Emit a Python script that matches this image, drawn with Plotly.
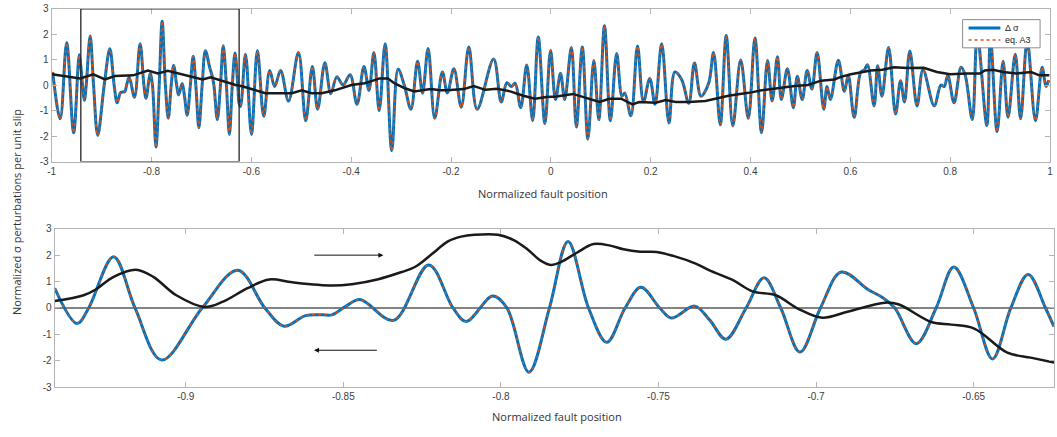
import plotly.graph_objects as go

# ---------------- data ----------------
# Top panel: stress signal left of the zoom window
sig_left_x = [-0.998, -0.983, -0.970, -0.956, -0.9448]
sig_left_y = [0.52, -1.32, 1.67, -1.87, 1.2]

# Zoom window signal (bottom panel, also used inside the box of the top panel)
zoom_x = [-0.9416, -0.9345, -0.9308, -0.9229, -0.9161, -0.9077, -0.8948, -0.8835, -0.8749,
          -0.8688, -0.8620, -0.8567, -0.8536, -0.8494, -0.8447, -0.8341, -0.8229, -0.8152,
          -0.8110, -0.8026, -0.7981, -0.7911, -0.7846, -0.7787, -0.7722, -0.7664, -0.7606,
          -0.7556, -0.7496, -0.7459, -0.7385, -0.7338, -0.7286, -0.7222, -0.7165, -0.7112,
          -0.7051, -0.6986, -0.6920, -0.6834, -0.6787, -0.6750, -0.6682, -0.6619, -0.6563,
          -0.6500, -0.6440, -0.6382, -0.6327, -0.6272, -0.6245]
zoom_y = [0.75, -0.59, 0.0, 1.94, 0.0, -1.97, 0.0, 1.43, 0.0,
          -0.69, -0.29, -0.26, -0.26, 0.05, 0.32, -0.47, 1.63, 0.0,
          -0.51, 0.45, 0.0, -2.43, 0.0, 2.52, 0.0, -1.30, 0.0,
          0.78, 0.0, -0.38, 0.07, -0.45, -1.18, 0.0, 1.14, 0.0,
          -1.67, 0.0, 1.36, 0.69, 0.38, 0.0, -1.35, 0.0, 1.55,
          0.0, -1.93, 0.0, 1.27, 0.0, -0.71]

# Top panel: stress signal right of the zoom window
sig_right_x = [-0.6217, -0.6117, -0.5998, -0.5879, -0.5752, -0.5632, -0.5533, -0.5414, -0.5255,
               -0.5056, -0.4911, -0.4778, -0.4672, -0.4527, -0.4408, -0.4288, -0.4162, -0.4022,
               -0.3883, -0.3744, -0.3644, -0.3545, -0.3439, -0.3320, -0.3187, -0.3060, -0.2936,
               -0.2803, -0.2670, -0.2571, -0.2459, -0.2326, -0.2173, -0.2074, -0.1942, -0.1795,
               -0.1644, -0.1477, -0.1147, -0.0994, -0.0881, -0.0790, -0.0716, -0.0603, -0.0483,
               -0.0364, -0.0252, -0.0119, -0.0006, 0.0093, 0.0193, 0.0278, 0.0411, 0.0511,
               0.0630, 0.0742, 0.0861, 0.0961, 0.1074, 0.1193, 0.1318, 0.1425, 0.1480,
               0.1604, 0.1736, 0.1855, 0.1982, 0.2087, 0.2220, 0.2366, 0.2485, 0.2620,
               0.2763, 0.2877, 0.3008, 0.3161, 0.3260, 0.3394, 0.3513, 0.3645, 0.3803,
               0.3956, 0.4089, 0.4221, 0.4340, 0.4433, 0.4539, 0.4618, 0.4738, 0.4858,
               0.4937, 0.5036, 0.5135, 0.5229, 0.5334, 0.5467, 0.5533, 0.5600, 0.5759,
               0.5879, 0.5958, 0.6077, 0.6209, 0.6280, 0.6342, 0.6475, 0.6547, 0.6633,
               0.6766, 0.6905, 0.7005, 0.7084, 0.7191, 0.7336, 0.7455, 0.7680, 0.7813,
               0.7880, 0.7952, 0.8078, 0.8217, 0.8300, 0.8443, 0.8543, 0.8734, 0.8807,
               0.8940, 0.9060, 0.9159, 0.9304, 0.9410, 0.9543, 0.9708, 0.9841, 0.9920,
               0.9974]
sig_right_y = [-0.83, 1.22, -1.93, 1.37, -1.22, 0.58, -0.05, 0.58, -0.62,
               1.29, -1.39, 0.74, -0.94, 0.88, -0.33, 0.33, 0.01, 0.41,
               -0.75, 0.74, -0.20, 1.29, -1.00, 1.63, -2.57, 0.63, 0.00,
               -0.94, 0.94, -0.31, 1.44, -1.30, 0.52, -0.30, 0.65, -0.86,
               1.50, -0.94, 1.03, -0.66, 0.10, -0.05, 0.08, -0.88, 0.80,
               -1.39, 1.90, -1.51, 1.37, -0.56, 0.46, -0.56, 1.48, -1.64,
               1.50, -2.11, 0.97, -1.35, 2.34, -1.39, 1.25, -0.43, -0.30,
               -1.20, 1.54, -0.65, 0.27, -0.75, 1.63, -1.48, 0.52, 0.23,
               -0.71, 0.87, -0.43, 0.08, 1.29, -1.55, 1.96, -1.60, 0.99,
               -1.30, 1.86, -1.86, 0.97, -0.62, 1.12, -0.56, 0.65, -0.88,
               0.35, -0.56, 0.58, -0.15, 1.29, -0.94, -0.05, -0.56, 0.98,
               -0.24, 0.39, -1.26, 0.52, 0.60, 0.81, -0.81, 0.77, -0.43,
               1.48, -1.13, 0.18, -0.66, 1.35, -0.81, 0.61, -0.81, 0.01,
               -0.05, 0.39, -0.69, 0.71, 0.40, -1.35, 2.00, -1.58, 1.90,
               -1.83, 0.94, -1.26, 1.22, -1.32, 1.75, -1.39, 0.71, -0.05,
               0.20]

# Top panel: normalized fault profile (black)
fault_top_x = [-0.9994, -0.9761, -0.9429, -0.9165, -0.8932, -0.8734, -0.8370, -0.8072, -0.7873,
               -0.7674, -0.7441, -0.6978, -0.6813, -0.6547, -0.6316, -0.6183, -0.5984, -0.5720,
               -0.5453, -0.5189, -0.4990, -0.4791, -0.4592, -0.4328, -0.3996, -0.3732, -0.3533,
               -0.3433, -0.3266, -0.3135, -0.2936, -0.2738, -0.2406, -0.2207, -0.2076, -0.1744,
               -0.1545, -0.1312, -0.1080, -0.0815, -0.0551, -0.0318, -0.0085, 0.0113, 0.0443,
               0.0710, 0.0974, 0.1173, 0.1406, 0.1636, 0.1769, 0.2101, 0.2300, 0.2499,
               0.2763, 0.3095, 0.3360, 0.3559, 0.3823, 0.4022, 0.4221, 0.4553, 0.4885,
               0.5149, 0.5414, 0.5680, 0.5811, 0.6010, 0.6209, 0.6408, 0.6640, 0.6873,
               0.7137, 0.7469, 0.7734, 0.7998, 0.8330, 0.8595, 0.8694, 0.8861, 0.9060,
               0.9324, 0.9622, 0.9787, 0.9986]
fault_top_y = [0.43, 0.36, 0.27, 0.43, 0.23, 0.36, 0.39, 0.58, 0.46,
               0.57, 0.46, 0.23, 0.31, 0.14, 0.01, -0.04, -0.15, -0.31,
               -0.31, -0.31, -0.20, -0.31, -0.31, -0.20, 0.01, 0.08, 0.20,
               0.27, 0.27, 0.08, -0.11, -0.24, -0.15, -0.20, -0.20, -0.15,
               -0.03, -0.18, -0.14, -0.24, -0.41, -0.53, -0.46, -0.44, -0.34,
               -0.50, -0.66, -0.53, -0.53, -0.75, -0.66, -0.69, -0.58, -0.66,
               -0.66, -0.62, -0.50, -0.41, -0.33, -0.28, -0.20, -0.11, -0.03,
               0.01, 0.18, 0.23, 0.33, 0.43, 0.52, 0.58, 0.61, 0.71,
               0.68, 0.69, 0.52, 0.43, 0.46, 0.46, 0.58, 0.61, 0.52,
               0.46, 0.52, 0.39, 0.39]

# Bottom panel: rescaled fault profile (black)
fault_zoom_x = [-0.9416, -0.9324, -0.9287, -0.9229, -0.9158, -0.9103, -0.9030, -0.8940, -0.8882,
                -0.8804, -0.8735, -0.8662, -0.8536, -0.8473, -0.8389, -0.8315, -0.8273, -0.8220,
                -0.8168, -0.8126, -0.8084, -0.8010, -0.7958, -0.7916, -0.7874, -0.7842, -0.7811,
                -0.7758, -0.7706, -0.7653, -0.7611, -0.7558, -0.7506, -0.7453, -0.7380, -0.7338,
                -0.7265, -0.7202, -0.7128, -0.7055, -0.6981, -0.6897, -0.6781, -0.6739, -0.6634,
                -0.6571, -0.6498, -0.6393, -0.6319, -0.6245]
fault_zoom_y = [0.26, 0.48, 0.69, 1.18, 1.45, 1.18, 0.48, 0.04, 0.24,
                0.75, 1.08, 0.97, 0.85, 0.90, 1.09, 1.36, 1.55, 2.03,
                2.52, 2.70, 2.77, 2.77, 2.56, 2.22, 1.79, 1.63, 1.73,
                2.10, 2.42, 2.36, 2.22, 2.13, 2.12, 1.97, 1.67, 1.42,
                1.06, 0.63, 0.48, -0.04, -0.37, -0.13, 0.20, 0.14, -0.53,
                -0.63, -0.78, -1.69, -1.88, -2.06]

top_xticks = [-1, -0.8, -0.6, -0.4, -0.2, 0, 0.2, 0.4, 0.6, 0.8, 1]
top_xtick_text = ["-1", "-0.8", "-0.6", "-0.4", "-0.2", "0", "0.2", "0.4", "0.6", "0.8", "1"]
bot_xticks = [-0.9, -0.85, -0.8, -0.75, -0.7, -0.65]
bot_xtick_text = ["-0.9", "-0.85", "-0.8", "-0.75", "-0.7", "-0.65"]
yticks = [-3, -2, -1, 0, 1, 2, 3]
ytick_text = ["-3", "-2", "-1", "0", "1", "2", "3"]
zoom_window = [-0.9416, -0.6245]
legend_labels = ["Δ σ", "eq. A3"]

# ---------------- figure ----------------
BLUE = "#0072BD"
ORANGE = "#D95319"
W, H = 1057, 437

top_x = sig_left_x + zoom_x + sig_right_x
top_y = sig_left_y + zoom_y + sig_right_y

fig = go.Figure()
fig.add_trace(go.Scatter(x=top_x, y=top_y, mode="lines", name=legend_labels[0],
                         line=dict(color=BLUE, width=3, shape="spline"),
                         xaxis="x", yaxis="y"))
fig.add_trace(go.Scatter(x=top_x, y=top_y, mode="lines", name=legend_labels[1],
                         line=dict(color=ORANGE, width=1.5, dash="dot", shape="spline"),
                         xaxis="x", yaxis="y"))
fig.add_trace(go.Scatter(x=fault_top_x, y=fault_top_y, mode="lines",
                         line=dict(color="#1a1a1a", width=2.5),
                         xaxis="x", yaxis="y"))

fig.add_trace(go.Scatter(x=zoom_window, y=[0, 0], mode="lines",
                         line=dict(color="#5a5a5a", width=1.5),
                         xaxis="x2", yaxis="y2"))
fig.add_trace(go.Scatter(x=zoom_x, y=zoom_y, mode="lines",
                         line=dict(color=BLUE, width=3, shape="spline"),
                         xaxis="x2", yaxis="y2"))
fig.add_trace(go.Scatter(x=zoom_x, y=zoom_y, mode="lines",
                         line=dict(color=ORANGE, width=1.3, dash="dot", shape="spline"),
                         xaxis="x2", yaxis="y2"))
fig.add_trace(go.Scatter(x=fault_zoom_x, y=fault_zoom_y, mode="lines",
                         line=dict(color="#1a1a1a", width=2.5, shape="spline"),
                         xaxis="x2", yaxis="y2"))

axis_common = dict(showgrid=False, zeroline=False, showline=True, linecolor="#b4b4b4",
                   linewidth=1, mirror="ticks", ticks="inside", tickcolor="#b4b4b4",
                   ticklen=5, tickfont=dict(family="Liberation Sans, Arial", size=10, color="#404040"))


def px(xp):
    return xp / W


def py(yp):
    return 1 - yp / H


shapes = [
    dict(type="rect", xref="x", yref="y", x0=zoom_window[0], x1=zoom_window[1],
         y0=-3, y1=3, line=dict(color="#222", width=1.3)),
    # hand-built legend box (compact, like the original)
    dict(type="rect", xref="paper", yref="paper", x0=px(965), x1=px(1043),
         y0=py(43), y1=py(14), fillcolor="white", line=dict(color="#8c8c8c", width=1),
         layer="above"),
    dict(type="line", xref="paper", yref="paper", x0=px(971), x1=px(1003),
         y0=py(22.5), y1=py(22.5), line=dict(color=BLUE, width=3), layer="above"),
    dict(type="line", xref="paper", yref="paper", x0=px(971), x1=px(1003),
         y0=py(35), y1=py(35), line=dict(color=ORANGE, width=1.5, dash="dot"), layer="above"),
]

fig.update_layout(
    width=W, height=H,
    margin=dict(l=0, r=0, t=0, b=0),
    paper_bgcolor="white", plot_bgcolor="white",
    showlegend=False,
    xaxis=dict(domain=[48 / W, 1053 / W], range=[-1, 1], anchor="y",
               tickvals=top_xticks, ticktext=top_xtick_text, **axis_common),
    yaxis=dict(domain=[1 - 160 / H, 1 - 3 / H], range=[-3, 3], anchor="x",
               tickvals=yticks, ticktext=ytick_text, **axis_common),
    xaxis2=dict(domain=[51 / W, 1.0], range=zoom_window, anchor="y2",
                tickvals=bot_xticks, ticktext=bot_xtick_text, **axis_common),
    yaxis2=dict(domain=[1 - 392 / H, 1 - 229 / H], range=[-3, 3], anchor="x2",
                tickvals=yticks, ticktext=ytick_text, **axis_common),
    shapes=shapes,
)

leg_font = dict(family="Liberation Sans, Arial", size=9, color="#222")
fig.add_annotation(text=legend_labels[0], xref="paper", yref="paper", x=px(1006), y=py(22.5),
                   xanchor="left", yanchor="middle", showarrow=False, font=leg_font)
fig.add_annotation(text=legend_labels[1], xref="paper", yref="paper", x=px(1006), y=py(35),
                   xanchor="left", yanchor="middle", showarrow=False, font=leg_font)

title_font = dict(family="Open Sans, Noto Sans", size=11, color="#333")
fig.add_annotation(text="Normalized fault position", xref="paper", yref="paper",
                   x=px(543), y=py(193), xanchor="center", yanchor="middle",
                   showarrow=False, font=title_font)
fig.add_annotation(text="Normalized fault position", xref="paper", yref="paper",
                   x=px(557), y=py(422), xanchor="center", yanchor="middle",
                   showarrow=False, font=title_font)
fig.add_annotation(text="Normalized σ perturbations per unit slip", xref="paper", yref="paper",
                   x=px(12), y=py(212), xanchor="center", yanchor="middle",
                   showarrow=False, textangle=-90, font=title_font)

# direction arrows in the zoom panel
fig.add_annotation(x=-0.8373, y=2.0, ax=-0.8597, ay=2.0, xref="x2", yref="y2",
                   axref="x2", ayref="y2", text="", showarrow=True,
                   arrowhead=2, arrowsize=1, arrowwidth=1, arrowcolor="#111")
fig.add_annotation(x=-0.8593, y=-1.6, ax=-0.8389, ay=-1.6, xref="x2", yref="y2",
                   axref="x2", ayref="y2", text="", showarrow=True,
                   arrowhead=2, arrowsize=1, arrowwidth=1, arrowcolor="#111")

fig.write_html("out.html")
